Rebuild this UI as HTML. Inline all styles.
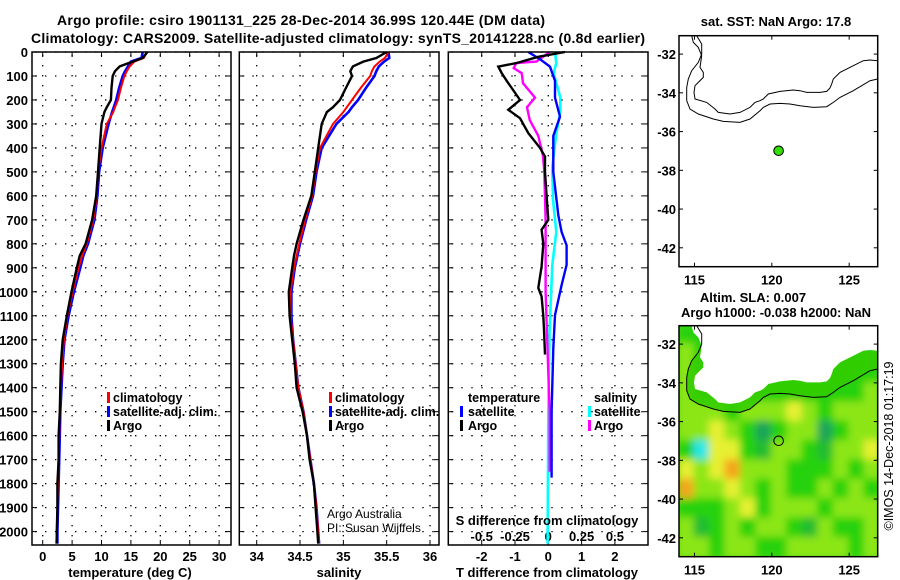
<!DOCTYPE html>
<html><head><meta charset="utf-8">
<style>
html,body{margin:0;padding:0;background:#fff;}
svg{display:block;font-family:"Liberation Sans",sans-serif;}
.b{font-weight:bold;}
</style></head>
<body>
<svg id="fig" width="900" height="580" viewBox="0 0 900 580">
<defs>
<clipPath id="clipMap2"><rect x="679" y="325.7" width="198.7" height="231"/></clipPath>
<filter id="blur" x="-10%" y="-10%" width="120%" height="120%"><feGaussianBlur stdDeviation="4"/></filter>
</defs>
<text class="b" x="57" y="25" font-size="14" textLength="488">Argo profile: csiro 1901131_225 28-Dec-2014 36.99S 120.44E (DM data)</text>
<text class="b" x="31" y="43" font-size="14" textLength="614">Climatology: CARS2009. Satellite-adjusted climatology: synTS_20141228.nc (0.8d earlier)</text>
<g id="panels"></g>
<g id="maps"></g>
</svg>
<script>
// ---------- profile data ----------
const depths = [0,25,40,60,80,100,150,200,230,250,300,400,500,600,700,800,850,900,1000,1100,1200,1300,1400,1500,1600,1700,1800,1900,2000,2050];
const tempArgo = [17.8,17.0,15.3,13.1,12.3,11.9,11.7,11.6,10.9,10.5,10.0,9.7,9.4,9.1,8.4,7.3,6.3,5.8,4.9,4.1,3.4,3.1,3.0,2.9,2.7,2.7,2.5,2.5,2.4,2.4];
const tempClim = [17.7,17.2,15.6,14.8,14.3,13.9,13.3,12.8,12.3,12.0,10.9,10.0,9.4,9.2,8.6,7.5,6.7,6.1,5.1,4.2,3.6,3.3,3.1,2.9,2.8,2.7,2.6,2.5,2.4,2.3];
const tempSat = [17.0,16.8,15.0,14.5,14.0,13.6,13.0,12.5,12.1,11.8,11.2,10.2,9.6,9.3,8.8,7.7,6.9,6.4,5.3,4.4,3.7,3.4,3.2,3.0,2.9,2.8,2.7,2.6,2.5,2.5];
const salArgo = [35.50,35.38,35.23,35.11,35.08,35.10,35.03,34.96,34.88,34.81,34.75,34.71,34.67,34.63,34.54,34.46,34.43,34.41,34.37,34.38,34.41,34.44,34.46,34.53,34.58,34.61,34.66,34.68,34.70,34.71];
const salClim = [35.52,35.48,35.42,35.36,35.33,35.31,35.20,35.10,35.04,35.00,34.88,34.73,34.68,34.64,34.56,34.49,34.46,34.43,34.39,34.39,34.42,34.45,34.48,34.54,34.58,34.62,34.66,34.69,34.71,34.72];
const salSat = [35.52,35.53,35.47,35.41,35.38,35.36,35.26,35.17,35.10,35.06,34.92,34.75,34.69,34.65,34.57,34.50,34.47,34.44,34.40,34.40,34.42,34.45,34.48,34.54,34.58,34.62,34.66,34.69,34.71,34.72];
// difference panel
const argoTDepth = [0,20,46,61,88,120,150,200,241,276,338,400,436,500,600,700,741,800,894,984,1019,1100,1158,1262];
const argoTdiff = [0.5,-0.3,-0.95,-1.5,-1.4,-1.25,-1.1,-0.85,-1.2,-0.85,-0.6,-0.25,-0.1,-0.1,-0.05,0,-0.2,-0.15,-0.2,-0.3,-0.2,-0.15,-0.13,-0.1];
const satTDepth = [0,30,61,120,190,270,350,500,680,750,806,888,972,1097,1236,1500,1775];
const satTdiff = [-0.6,-0.25,0.05,0.2,0.2,0.35,0.15,0.15,0.3,0.4,0.55,0.55,0.4,0.2,0.15,0.1,0.1];
const argoSDepth = [0,40,46,67,88,130,190,230,283,350,433,500,700,1000,1500,1750];
const argoSdiff = [0.01,-0.09,-0.24,-0.26,-0.2,-0.19,-0.1,-0.16,-0.14,-0.075,-0.04,-0.03,-0.02,-0.02,0.01,0.01];
const satSDepth = [0,46,88,190,250,340,480,615,750,888,1020,1160,1500,2050];
const satSdiff = [0.05,0.06,0.04,0.09,0.09,0.06,0.03,0.035,0.06,0.03,0.02,0.01,0.0,-0.005];
// tick labels
const depthTicks = [0,100,200,300,400,500,600,700,800,900,1000,1100,1200,1300,1400,1500,1600,1700,1800,1900,2000];
const tempTicks = [0,5,10,15,20,25,30];
const salTicks = ["34","34.5","35","35.5","36"];
const tdiffTicks = ["-2","-1","0","1","2"];
const sdiffTicks = ["-0.5","-0.25","0","0.25","0.5"];
// map data
const latTicks = [-32,-34,-36,-38,-40,-42];
const lonTicks = [115,120,125];
const argoLon = 120.44, argoLat = -36.99;
const slaLats = [-31.5,-32.5,-33.5,-34.5,-35.5,-36.5,-37.5,-38.5,-39.5,-40.5,-41.5,-42.5];
const slaLons = [114.5,115.5,116.5,117.5,118.5,119.5,120.5,121.5,122.5,123.5,124.5,125.5,126.5];
const slaRow0 = [0,0,0,0,0,0,0,0,0,0,0,0,0];
const slaRow1 = [1,0,0,0,0,0,0,0,0,0,0,0,0];
const slaRow2 = [1,0,0,0,0,0,0,0,0,0,0,0,0];
const slaRow3 = [1,0,0,0,0,0,0,0,0,0,0,0,1];
const slaRow4 = [1,1,1,0,1,1,1,2,1,0,1,1,1];
const slaRow5 = [1,1,2,1,0,-1,0,1,1,-1,0,1,1];
const slaRow6 = [0,-2,2,2,0,-0.5,1,1,0,-0.5,1,1,2];
const slaRow7 = [2,1,2,3,1,1,1,0,0,0,1,0,1];
const slaRow8 = [3,1,1,2,1,0,1,0,0,1,0,1,0];
const slaRow9 = [0,0,0,1,2,0,1,1,1,0,1,1,1];
const slaRow10 = [1,-0.5,0,1,0,1,1,0,-0.5,1,0,0,1];
const slaRow11 = [1,1,0,1,1,0,0,1,1,1,1,0,1];
const slaRows = [slaRow0,slaRow1,slaRow2,slaRow3,slaRow4,slaRow5,slaRow6,slaRow7,slaRow8,slaRow9,slaRow10,slaRow11];

const NS = "http://www.w3.org/2000/svg";
function mk(tag, attrs, parent, txt){
  const e = document.createElementNS(NS, tag);
  for (const k in attrs) e.setAttribute(k, attrs[k]);
  if (txt !== undefined) e.textContent = txt;
  parent.appendChild(e);
  return e;
}
const P = document.getElementById('panels');
const TOP = 52, PXM = 0.2398, BOT = 545;
const yD = d => TOP + d*PXM;
const DASH = '1.4 8.6';

function panel(x0, x1, name){
  const g = mk('g', {}, P);
  
  
  depthTicks.forEach(d => {
    const y = yD(d);
    const gl = mk('line', {x1:x0+3, x2:x1, y1:y, y2:y, stroke:'#000', 'stroke-width':1.3, 'stroke-dasharray':DASH}, g);
    
    
    mk('line', {x1:x0, x2:x0+5, y1:y, y2:y, stroke:'#000', 'stroke-width':1}, g);
    mk('line', {x1:x1-5, x2:x1, y1:y, y2:y, stroke:'#000', 'stroke-width':1}, g);
  });
  return g;
}
function vgrid(g, x){
  const l = mk('line', {x1:x, x2:x, y1:TOP+3, y2:BOT, stroke:'#000', 'stroke-width':1.3, 'stroke-dasharray':DASH}, g);
  
  
  mk('line', {x1:x, x2:x, y1:TOP, y2:TOP+5, stroke:'#000'}, g);
  mk('line', {x1:x, x2:x, y1:BOT-5, y2:BOT, stroke:'#000'}, g);
}
function frame(g, x0, x1){
  const r = mk('rect', {x:x0, y:TOP, width:x1-x0, height:BOT-TOP, fill:'none', stroke:'#000', 'stroke-width':1.5}, g);
  
  
}
function line(g, xs, ds, xf, color, w, name){
  const pts = xs.map((v,i) => xf(v).toFixed(1)+','+yD(ds[i]).toFixed(1)).join(' ');
  const l = mk('polyline', {points:pts, fill:'none', stroke:color, 'stroke-width':w, 'stroke-linejoin':'miter'}, g);
  
  
}
function label(g, x, y, s, txt, anchor, bold, name){
  const t = mk('text', {x:x, y:y, 'font-size':s, 'text-anchor':anchor||'start', 'font-weight':bold===false?'normal':'bold'}, g, txt);
  
  
  return t;
}
function legendMark(g, x, y, color, name){
  const r = mk('rect', {x:x, y:y-10, width:3, height:11, fill:color}, g);
  
  
}

depthTicks.forEach(d => { label(P, 28, yD(d)+5, 13, String(d), 'end', true, 'depth-tick-label'); });

// ---- temperature panel ----
const tx = t => 42.7 + t*5.88;
let g1 = panel(32, 231, 'temperature-panel');
tempTicks.forEach(t => { vgrid(g1, tx(t)); label(g1, tx(t), 561, 13, String(t), 'middle', true, 'temperature-tick-label'); });
line(g1, tempSat, depths, tx, '#0000ff', 2.6, 'temperature-satellite-line');
line(g1, tempClim, depths, tx, '#ff0000', 2, 'temperature-climatology-line');
line(g1, tempArgo, depths, tx, '#000', 2.4, 'temperature-argo-line');
frame(g1, 32, 231);
label(g1, 130, 577, 13, 'temperature (deg C)', 'middle', true, 'temperature-axis-title');
legendMark(g1, 107, 402, '#ff0000', 'legend-climatology-mark');
label(g1, 113, 402, 12.5, 'climatology', 'start', true, 'legend-climatology');
legendMark(g1, 107, 416, '#0000ff', 'legend-satellite-mark');
label(g1, 113, 416, 12.5, 'satellite-adj. clim.', 'start', true, 'legend-satellite');
legendMark(g1, 107, 430, '#000', 'legend-argo-mark');
label(g1, 113, 430, 12.5, 'Argo', 'start', true, 'legend-argo');

// ---- salinity panel ----
const sx = s => 256.7 + (s-34)*86.65;
let g2 = panel(239.3, 439, 'salinity-panel');
salTicks.forEach(s => { vgrid(g2, sx(parseFloat(s))); label(g2, sx(parseFloat(s)), 561, 13, s, 'middle', true, 'salinity-tick-label'); });
line(g2, salSat, depths, sx, '#0000ff', 2.6, 'salinity-satellite-line');
line(g2, salClim, depths, sx, '#ff0000', 2, 'salinity-climatology-line');
line(g2, salArgo, depths, sx, '#000', 2.4, 'salinity-argo-line');
frame(g2, 239.3, 439);
label(g2, 339, 577, 13, 'salinity', 'middle', true, 'salinity-axis-title');
legendMark(g2, 329, 402, '#ff0000', 'legend-climatology-mark');
label(g2, 335, 402, 12.5, 'climatology', 'start', true, 'legend-climatology');
legendMark(g2, 329, 416, '#0000ff', 'legend-satellite-mark');
label(g2, 335, 416, 12.5, 'satellite-adj. clim.', 'start', true, 'legend-satellite');
legendMark(g2, 329, 430, '#000', 'legend-argo-mark');
label(g2, 335, 430, 12.5, 'Argo', 'start', true, 'legend-argo');
label(g2, 327, 518, 12, 'Argo Australia', 'start', false, 'credit-argo-australia');
label(g2, 327, 532, 12, 'PI: Susan Wijffels', 'start', false, 'credit-pi');

// ---- difference panel ----
const dtx = t => 548.3 + t*33.3;
const dsx = s => 548.3 + s*133.2;
let g3 = panel(448.3, 648, 'difference-panel');
tdiffTicks.forEach(t => { vgrid(g3, dtx(parseFloat(t))); label(g3, dtx(parseFloat(t)), 561, 13, t, 'middle', true, 'tdiff-tick-label'); });
sdiffTicks.forEach(s => { label(g3, dsx(parseFloat(s)), 541, 13, s, 'middle', true, 'sdiff-tick-label'); });
line(g3, satSdiff, satSDepth, dsx, '#00ffff', 2.6, 'salinity-diff-satellite-line');
line(g3, argoSdiff, argoSDepth, dsx, '#ff00ff', 2.4, 'salinity-diff-argo-line');
line(g3, satTdiff, satTDepth, dtx, '#0000ff', 2.4, 'temperature-diff-satellite-line');
line(g3, argoTdiff, argoTDepth, dtx, '#000', 2.4, 'temperature-diff-argo-line');
frame(g3, 448.3, 648);
label(g3, 547, 525, 13, 'S difference from climatology', 'middle', true, 'sdiff-axis-title');
label(g3, 547, 577, 13, 'T difference from climatology', 'middle', true, 'tdiff-axis-title');
label(g3, 468, 402, 12.5, 'temperature', 'start', true, 'legend-temperature-header');
legendMark(g3, 460, 416, '#0000ff', 'legend-t-satellite-mark');
label(g3, 468, 416, 12.5, 'satellite', 'start', true, 'legend-t-satellite');
legendMark(g3, 460, 430, '#000', 'legend-t-argo-mark');
label(g3, 468, 430, 12.5, 'Argo', 'start', true, 'legend-t-argo');
label(g3, 594, 402, 12.5, 'salinity', 'start', true, 'legend-salinity-header');
legendMark(g3, 588, 416, '#00ffff', 'legend-s-satellite-mark');
label(g3, 594, 416, 12.5, 'satellite', 'start', true, 'legend-s-satellite');
legendMark(g3, 588, 430, '#ff00ff', 'legend-s-argo-mark');
label(g3, 594, 430, 12.5, 'Argo', 'start', true, 'legend-s-argo');

// ---------- maps ----------
const M = document.getElementById('maps');
const MX0 = 679, MX1 = 877.7, MW = MX1-MX0;
const lonX = lon => MX0 + (lon-114.0)*15.47;
const latY = (top, lat) => top + (-31.05-lat)*19.37;
const coastPx = [[12.7,0],[14.3,6.7],[19.3,11.7],[22.7,20],[21,31.7],[24.3,36.7],[24.3,41.7],[19.3,46.7],[16,50],[15,56.7],[16,63.3],[27.7,66.7],[36,73.3],[39.3,76.7],[51,78.3],[61,76.7],[71,71.7],[76,66.7],[81,65],[84.3,63.3],[89.3,58.3],[101,55.7],[114.3,54.3],[121,55],[127.7,56.7],[141,56.7],[147.7,55.7],[151,52.3],[152.7,48.3],[154.3,43.3],[161,36.7],[174.3,30],[184.3,25],[191,24.3],[198.7,25]];
const shelfPx = [[17.7,0],[22.7,8.3],[22.7,18.3],[19.3,26.7],[12.7,35],[9.3,43.3],[7.7,51.7],[7.7,65],[11,73.3],[19.3,78.3],[34.3,83.3],[44.3,85.7],[61,86.7],[71,83.3],[81,75],[84.3,71.7],[91,68.3],[101,67.7],[111,68.3],[121,70],[134.3,71.7],[147.7,71],[154.3,66.7],[161,61.7],[174.3,55],[191,45],[198.7,43.3]];

function mapFrame(name){
  const g = mk('g', {}, M);
  
  
  return g;
}
function mapAxes(g, top){
  const H = 231;
  latTicks.forEach(lat => {
    const y = latY(top, lat);
    mk('line', {x1:MX0, x2:MX0+4, y1:y, y2:y, stroke:'#000'}, g);
    mk('line', {x1:MX1-4, x2:MX1, y1:y, y2:y, stroke:'#000'}, g);
    label(g, 676, y+5, 13, String(lat), 'end', true, 'latitude-tick-label');
  });
  lonTicks.forEach(lon => {
    const x = lonX(lon);
    mk('line', {x1:x, x2:x, y1:top, y2:top+4, stroke:'#000'}, g);
    mk('line', {x1:x, x2:x, y1:top+H-4, y2:top+H, stroke:'#000'}, g);
    label(g, x, top+H+18, 13, String(lon), 'middle', true, 'longitude-tick-label');
  });
  const r = mk('rect', {x:MX0, y:top, width:MW, height:H, fill:'none', stroke:'#000', 'stroke-width':1.5}, g);
  
  
}
function coastPaths(g, top){
  const c = mk('polyline', {points:coastPx.map(p => (MX0+p[0])+','+(top+p[1])).join(' '), fill:'none', stroke:'#000', 'stroke-width':1}, g);
  
  
  const s = mk('polyline', {points:shelfPx.map(p => (MX0+p[0])+','+(top+p[1])).join(' '), fill:'none', stroke:'#000', 'stroke-width':1}, g);
  
  
}

// map 1: SST
const T1 = 35.7;
const gm1 = mapFrame('sst-map');
label(gm1, 776, 26, 13, 'sat. SST: NaN Argo: 17.8', 'middle', true, 'sst-map-title');
mk('rect', {x:MX0, y:T1, width:MW, height:231, fill:'#fff'}, gm1);
coastPaths(gm1, T1);
const dot = mk('circle', {cx:lonX(argoLon), cy:latY(T1, argoLat), r:4.8, fill:'#33dd00', stroke:'#000', 'stroke-width':1}, gm1);


mapAxes(gm1, T1);

// map 2: SLA
const T2 = 325.7;
const gm2 = mapFrame('sla-map');
label(gm2, 753, 302, 13, 'Altim. SLA: 0.007', 'middle', true, 'sla-map-title');
label(gm2, 776, 317, 13, 'Argo h1000: -0.038 h2000: NaN', 'middle', true, 'sla-map-subtitle');
const heat = mk('g', {'clip-path':'url(#clipMap2)'}, gm2);
mk('rect', {x:MX0, y:T2, width:MW, height:231, fill:'#55dd10'}, heat);
const blurG = mk('g', {filter:'url(#blur)'}, heat);
const cmap = v => {
  const stops = [[-2,[40,230,230]],[-1,[30,165,90]],[0,[40,210,10]],[1,[140,230,20]],[2,[230,240,50]],[3,[245,165,30]]];
  if (v <= -2) return 'rgb(40,230,230)';
  for (let i=0;i<stops.length-1;i++){
    if (v <= stops[i+1][0]){
      const f = (v-stops[i][0])/(stops[i+1][0]-stops[i][0]);
      const c = stops[i][1].map((a,k)=>Math.round(a+(stops[i+1][1][k]-a)*f));
      return 'rgb('+c.join(',')+')';
    }
  }
  return 'rgb(245,165,30)';
};
slaRows.forEach((row, ri) => {
  row.forEach((v, ci) => {
    const cell = mk('rect', {x:lonX(slaLons[ci]-0.5)-1, y:latY(T2, slaLats[ri]+0.5)-1, width:15.47+2, height:19.37+2, fill:cmap(v)}, blurG);
    
    
  });
});
// green shelf band
const bandPts = coastPx.concat(shelfPx.slice().reverse());
const band = mk('polygon', {points:bandPts.map(p => (MX0+p[0])+','+(T2+p[1])).join(' '), fill:'#33cc00', opacity:0.85}, heat);


const landPts = [[0,0]].concat(coastPx).concat([[198.7,0]]);
const land = mk('polygon', {points:landPts.map(p => (MX0+p[0])+','+(T2+p[1])).join(' '), fill:'#fff'}, heat);


const sh = mk('polyline', {points:shelfPx.map(p => (MX0+p[0])+','+(T2+p[1])).join(' '), fill:'none', stroke:'#000', 'stroke-width':1}, heat);


const ring = mk('circle', {cx:lonX(argoLon), cy:latY(T2, argoLat), r:4.8, fill:'none', stroke:'#000', 'stroke-width':1}, gm2);


mapAxes(gm2, T2);

const cr = label(M, 0, 0, 12.5, '\u00a9IMOS 14-Dec-2018 01:17:19', 'middle', false, 'imos-credit');
cr.setAttribute('transform', 'translate(893,446) rotate(-90)');
</script>
</body></html>
